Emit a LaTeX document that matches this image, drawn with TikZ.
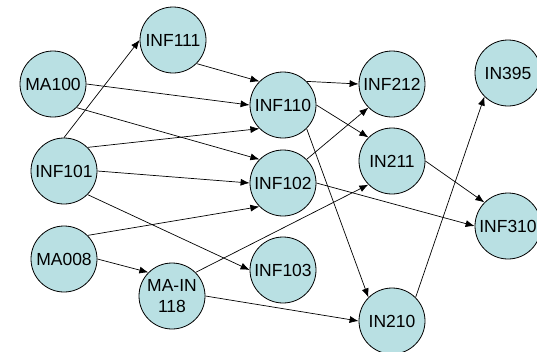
\documentclass[tikz,border=0pt]{standalone}
\usepackage{fontspec}
\setmainfont{Liberation Sans}
\usetikzlibrary{arrows.meta}
\definecolor{nodefill}{RGB}{185,224,227}
\tikzset{
  course/.style={circle, draw=black, line width=0.8pt, fill=nodefill, minimum size=66pt, inner sep=0pt, align=center, font=\fontsize{17.5}{21}\selectfont},
  dep/.style={-{Latex[length=9pt,width=7pt]}, line width=0.7pt, black}
}
\begin{document}
\begin{tikzpicture}[x=1pt,y=-1pt]
\useasboundingbox (0,0) rectangle (537,351);
\node[course] (inf111) at (173,40) {INF111};
\node[course] (ma100) at (53,84) {MA100};
\node[course] (inf110) at (283,105) {INF110};
\node[course] (inf212) at (392,84) {INF212};
\node[course] (in395) at (508,73) {IN395};
\node[course] (inf101) at (64,171) {INF101};
\node[course] (inf102) at (283,183) {INF102};
\node[course] (in211) at (392,161) {IN211};
\node[course] (inf310) at (508,226) {INF310};
\node[course] (ma008) at (64,259) {MA008};
\node[course] (main118) at (172,296) {MA-IN\\118};
\node[course] (inf103) at (283,270) {INF103};
\node[course] (in210) at (392,321) {IN210};

\draw[dep] (inf101.north) -- (inf111.west);
\draw[dep] (ma100.east) -- (inf110.west);
\draw[dep] (ma100.south east) -- (inf102.north west);
\draw[dep] (inf111.south east) -- (inf110.north west);
\draw[dep] (inf101.north east) -- (inf110.south west);
\draw[dep] (inf101.east) -- (inf102.west);
\draw[dep] (inf101.south east) -- (inf103.west);
\draw[dep] (ma008.north east) -- (inf102.south west);
\draw[dep] (ma008.east) -- (main118.north west);
\draw[dep] (main118.north east) -- (in211.south west);
\draw[dep] (main118.east) -- (in210.west);
\draw[dep] (inf110.north east) -- (inf212.west);
\draw[dep] (inf110.east) -- (in211.north west);
\draw[dep] (inf110.south east) -- (in210.north west);
\draw[dep] (inf102.north east) -- (inf212.south west);
\draw[dep] (inf102.east) -- (inf310.west);
\draw[dep] (in211.east) -- (inf310.north west);
\draw[dep] (in210.north east) -- (in395.south west);
\end{tikzpicture}
\end{document}
